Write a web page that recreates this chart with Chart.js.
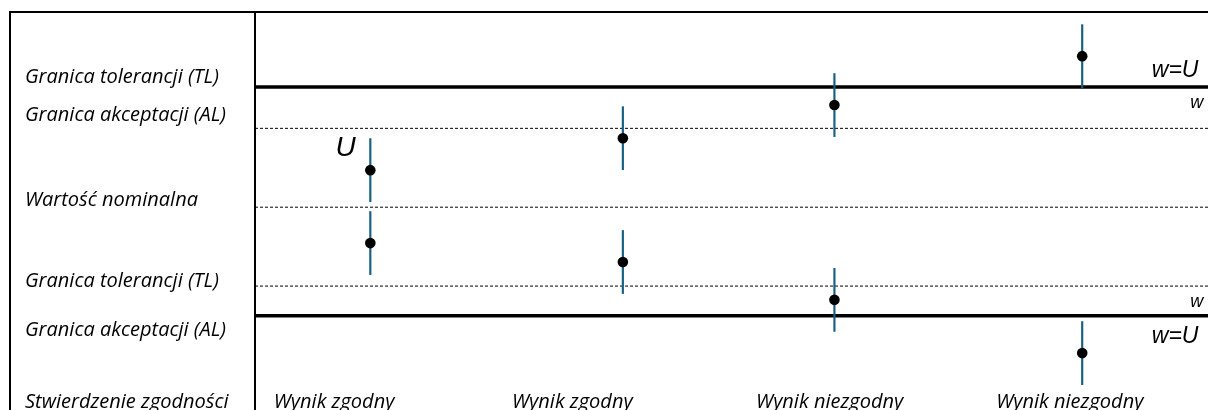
<!DOCTYPE html>
<html>
<head>
<meta charset="utf-8">
<script src="https://cdn.jsdelivr.net/npm/chart.js@4/dist/chart.umd.min.js"></script>
<style>
  html, body { margin: 0; padding: 0; background: #fff; overflow: hidden; }
  #wrap { width: 1208px; height: 430px; }
</style>
</head>
<body>
<div id="wrap"><canvas id="chart"></canvas></div>
<script>
// left column labels and where they sit on the y scale
const rowLabels = [
  'Granica tolerancji (TL)',
  'Granica akceptacji (AL)',
  'Wartość nominalna',
  'Granica tolerancji (TL)',
  'Granica akceptacji (AL)',
  'Stwierdzenie zgodności'
];
const rowLabelPos = [33.0, 23.4, 1.8, -18.7, -31.1, -49.5];

// four cases along x
const categories = ['Wynik zgodny', 'Wynik zgodny', 'Wynik niezgodny', 'Wynik niezgodny'];
const categoryPos = [12.1, 38.6, 60.8, 86.8];
const categoryLabelPos = [8.3, 33.3, 60.3, 85.5];

// measured results (upper and lower case) and expanded uncertainty U
const upperResults = [9.4, 17.5, 25.9, 38.3];
const lowerResults = [-9.1, -13.9, -23.5, -37.0];
const uncertainty = 8;

// reference levels
const toleranceLevels = [30.5, -27.5];
const acceptanceLevels = [20, -20];
const nominalLevels = [0];

const labelFont = "'Open Sans', 'Liberation Sans', sans-serif";
const noteFont = "'Liberation Sans', Arial, sans-serif";

const levelLine = (v, width, dash) => ({
  type: 'line',
  data: [{ x: 0, y: v }, { x: 100, y: v }],
  borderColor: '#000',
  borderWidth: width,
  borderDash: dash,
  pointRadius: 0,
  order: 3
});

const errorBars = categoryPos.flatMap((x, i) => [
  { x: x, y: [upperResults[i] - uncertainty, upperResults[i] + uncertainty] },
  { x: x, y: [lowerResults[i] - uncertainty, lowerResults[i] + uncertainty] }
]);

const dots = categoryPos.flatMap((x, i) => [
  { x: x, y: upperResults[i] },
  { x: x, y: lowerResults[i] }
]);

const frame = {
  id: 'frame',
  afterDraw(chart) {
    const { ctx, chartArea, scales: { y } } = chart;
    const left = y.left - 15;
    ctx.save();
    ctx.strokeStyle = '#000';
    ctx.lineWidth = 2;
    ctx.beginPath();
    ctx.moveTo(left, chart.height);
    ctx.lineTo(left, chartArea.top);
    ctx.lineTo(chart.width, chartArea.top);
    ctx.stroke();
    ctx.restore();
  }
};

const textLayer = {
  id: 'textLayer',
  afterDatasetsDraw(chart, args, opts) {
    const { ctx, scales: { x, y } } = chart;
    ctx.save();
    ctx.fillStyle = '#000';
    ctx.textBaseline = 'middle';
    ctx.textAlign = 'center';
    ctx.font = 'italic 20px ' + labelFont;
    const rowY = y.getPixelForValue(rowLabelPos[rowLabelPos.length - 1]);
    categories.forEach((c, i) => {
      ctx.fillText(c, x.getPixelForValue(categoryLabelPos[i]), rowY);
    });
    opts.notes.forEach(n => {
      ctx.font = 'italic ' + n.size + 'px ' + noteFont;
      ctx.textAlign = n.align;
      ctx.fillText(n.text, x.getPixelForValue(n.x), y.getPixelForValue(n.y));
    });
    ctx.restore();
  }
};

new Chart(document.getElementById('chart'), {
  type: 'scatter',
  data: {
    datasets: [
      {
        type: 'scatter',
        data: dots,
        pointRadius: 5.3,
        pointBackgroundColor: '#000',
        pointBorderWidth: 0,
        order: 1
      },
      {
        type: 'bar',
        data: errorBars,
        barThickness: 1.5,
        backgroundColor: '#156082',
        borderWidth: 0,
        order: 2
      },
      ...toleranceLevels.map(v => levelLine(v, 3.5, [])),
      ...acceptanceLevels.map(v => levelLine(v, 1, [3, 2])),
      ...nominalLevels.map(v => levelLine(v, 1, [3, 2]))
    ]
  },
  options: {
    responsive: true,
    maintainAspectRatio: false,
    animation: false,
    layout: { autoPadding: false, padding: { left: 25, top: 12, right: 0, bottom: 0 } },
    plugins: {
      legend: { display: false },
      tooltip: { enabled: false },
      textLayer: {
        notes: [
          { text: 'U', x: 9.5, y: 15.0, size: 28, align: 'center' },
          { text: 'w=U', x: 99.0, y: 34.7, size: 23, align: 'right' },
          { text: 'w', x: 99.5, y: 26.3, size: 18, align: 'right' },
          { text: 'w', x: 99.5, y: -24.0, size: 18, align: 'right' },
          { text: 'w=U', x: 99.0, y: -32.9, size: 23, align: 'right' }
        ]
      }
    },
    scales: {
      x: { type: 'linear', min: 0, max: 100, offset: false, display: false },
      y: {
        type: 'linear',
        min: -56.5,
        max: 49.5,
        afterBuildTicks: s => { s.ticks = rowLabelPos.map(v => ({ value: v })); },
        afterFit: s => { s.width = 230; s.paddingTop = 0; s.paddingBottom = 0; },
        ticks: {
          autoSkip: false,
          crossAlign: 'far',
          padding: 0,
          color: '#000',
          font: { family: labelFont, size: 20, style: 'italic' },
          callback: (v, i) => rowLabels[i]
        },
        grid: { display: false },
        border: { display: true, color: '#000', width: 2 }
      }
    }
  },
  plugins: [frame, textLayer]
});
</script>
</body>
</html>
